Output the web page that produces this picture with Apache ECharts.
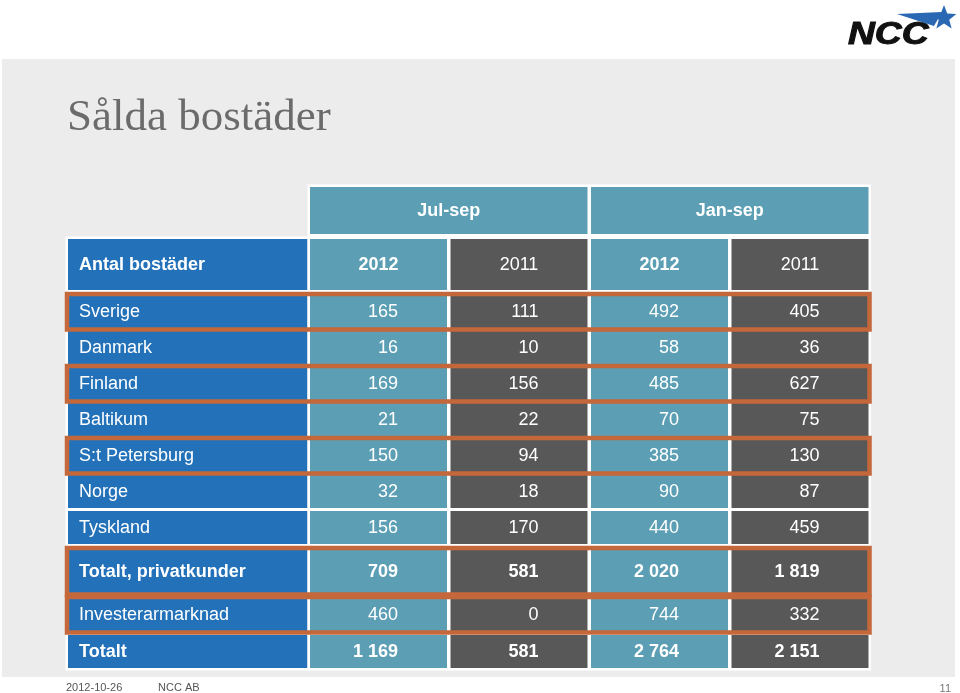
<!DOCTYPE html>
<html><head><meta charset="utf-8">
<script src="https://cdn.jsdelivr.net/npm/echarts@6/dist/echarts.min.js"></script>
<style>html,body{margin:0;padding:0;background:#fff}#c{width:960px;height:693px}</style>
</head><body><div id="c"></div>
<script>
// ---- data ----
const slideTitle = 'Sålda bostäder';
const cornerLabel = 'Antal bostäder';
const periods = ['Jul-sep', 'Jan-sep'];
const years = ['2012', '2011', '2012', '2011'];
const rowLabels = ['Sverige', 'Danmark', 'Finland', 'Baltikum', 'S:t Petersburg', 'Norge', 'Tyskland', 'Totalt, privatkunder', 'Investerarmarknad', 'Totalt'];
const julSep2012 = [165, 16, 169, 21, 150, 32, 156, 709, 460, 1169];
const julSep2011 = [111, 10, 156, 22, 94, 18, 170, 581, 0, 581];
const janSep2012 = [492, 58, 485, 70, 385, 90, 440, 2020, 744, 2764];
const janSep2011 = [405, 36, 627, 75, 130, 87, 459, 1819, 332, 2151];
const highlightRows = ['Sverige', 'Finland', 'S:t Petersburg', 'Totalt, privatkunder', 'Investerarmarknad'];
const boldRows = ['Totalt, privatkunder', 'Totalt'];
const footerDate = '2012-10-26';
const footerCompany = 'NCC AB';
const pageNumber = '11';
const logoText = 'NCC';

// ---- layout (table units) ----
const COL_X = [[0, 239.5], [242, 379], [382.5, 519.5], [523, 660], [663.5, 800.5]];
const ROW_Y = [[0, 47], [52, 103], [108, 141], [144, 177], [180, 213], [216, 249], [252, 285], [288, 321], [324, 357], [362, 406], [411, 444], [448, 481]];
const BLUE = '#2372b9', TEAL = '#5c9fb4', DARK = '#585858', ORANGE = '#c4673a';
const colFill = [BLUE, TEAL, DARK, TEAL, DARK];
const FONT = '"Liberation Sans", Arial, sans-serif';

function fmt(n) { return String(n).replace(/\B(?=(\d{3})+(?!\d))/g, ' '); }

// build cells: [c0, r, c1], plus text/kind
const cells = [];
periods.forEach((p, i) => cells.push({ value: [1 + 2 * i, 0, 2 + 2 * i], text: p, kind: 'period' }));
cells.push({ value: [0, 1, 0], text: cornerLabel, kind: 'corner' });
years.forEach((y, i) => cells.push({ value: [i + 1, 1, i + 1], text: y, kind: 'year', bold: y === '2012' }));
const series = [julSep2012, julSep2011, janSep2012, janSep2011];
rowLabels.forEach((lab, r) => {
  const bold = boldRows.includes(lab);
  cells.push({ value: [0, r + 2, 0], text: lab, kind: 'label', bold });
  series.forEach((arr, i) => cells.push({ value: [i + 1, r + 2, i + 1], text: fmt(arr[r]), kind: 'num', bold }));
});

function renderCell(params, api) {
  const c = cells[params.dataIndex];
  const c0 = api.value(0), r = api.value(1), c1 = api.value(2);
  const p0 = api.coord([COL_X[c0][0], ROW_Y[r][0]]);
  const p1 = api.coord([COL_X[c1][1], ROW_Y[r][1]]);
  const fill = c.kind === 'period' ? TEAL : colFill[c0];
  let tx, align;
  if (c.kind === 'label' || c.kind === 'corner') { tx = p0[0] + 11; align = 'left'; }
  else if (c.kind === 'num') { tx = p1[0] - 49; align = 'right'; }
  else { tx = (p0[0] + p1[0]) / 2; align = 'center'; }
  const bold = c.kind === 'period' || c.kind === 'corner' || c.bold;
  return {
    type: 'group',
    children: [
      { type: 'rect', shape: { x: p0[0] - 1.25, y: p0[1] - 1.25, width: p1[0] - p0[0] + 2.5, height: p1[1] - p0[1] + 2.5 },
        style: { fill: fill, stroke: '#ffffff', lineWidth: 2.5 } },
      { type: 'text', x: tx, y: (p0[1] + p1[1]) / 2 + 1,
        style: { text: c.text, fill: '#ffffff', font: (bold ? 'bold ' : '') + '18px ' + FONT, align: align, textAlign: align, verticalAlign: 'middle', textVerticalAlign: 'middle' } }
    ]
  };
}

const outlineData = highlightRows.map(l => ({ value: [rowLabels.indexOf(l) + 2] }));
function renderOutline(params, api) {
  const r = api.value(0);
  const p0 = api.coord([COL_X[0][0] - 1, ROW_Y[r][0] - 1]);
  const p1 = api.coord([COL_X[4][1] + 1, ROW_Y[r][1] + 1.5]);
  return { type: 'rect', shape: { x: p0[0], y: p0[1], width: p1[0] - p0[0], height: p1[1] - p0[1] },
    style: { fill: 'none', stroke: ORANGE, lineWidth: 4.5 } };
}

// star polygon for logo
function starPoints(cx, cy, ro, ri, rot) {
  const pts = [];
  for (let i = 0; i < 10; i++) {
    const a = rot + i * Math.PI / 5;
    const r = i % 2 === 0 ? ro : ri;
    pts.push([cx + r * Math.sin(a), cy - r * Math.cos(a)]);
  }
  return pts;
}

const chart = echarts.init(document.getElementById('c'), null, { renderer: 'canvas' });
chart.setOption({
  backgroundColor: '#ffffff',
  animation: false,
  grid: { left: 68, top: 187, width: 800, height: 481 },
  xAxis: { type: 'value', min: 0, max: 800, show: false },
  yAxis: { type: 'value', min: 0, max: 481, inverse: true, show: false },
  graphic: [
    { type: 'rect', z: 0, shape: { x: 2, y: 59, width: 953, height: 618 }, style: { fill: '#ececec' } },
    { type: 'text', z: 1, x: 67, y: 118, style: { text: slideTitle, fill: '#6b6b6b', font: '45px "Liberation Serif", serif', verticalAlign: 'middle', textVerticalAlign: 'middle' } },
    { type: 'text', z: 1, x: 66, y: 688, style: { text: footerDate, fill: '#555555', font: '11px ' + FONT, verticalAlign: 'middle', textVerticalAlign: 'middle' } },
    { type: 'text', z: 1, x: 158, y: 688, style: { text: footerCompany, fill: '#555555', font: '11px ' + FONT, verticalAlign: 'middle', textVerticalAlign: 'middle' } },
    { type: 'text', z: 1, x: 951, y: 689, style: { text: pageNumber, fill: '#777777', font: '11px ' + FONT, align: 'right', textAlign: 'right', verticalAlign: 'middle', textVerticalAlign: 'middle' } },
    { type: 'text', z: 1, x: 848, y: 35, scaleX: 1.2, scaleY: 1, originX: 0, originY: 0, style: { text: logoText, fill: '#111111', stroke: '#111111', lineWidth: 1, font: 'italic bold 31px ' + FONT, verticalAlign: 'middle', textVerticalAlign: 'middle' } },
    { type: 'polygon', z: 2, shape: { points: [[897, 14], [942, 12], [934, 26]] }, style: { fill: '#2a68b3' } },
    { type: 'polygon', z: 2, shape: { points: starPoints(944, 18, 13, 5.5, 0) }, style: { fill: '#2a68b3' } }
  ],
  series: [
    { type: 'custom', z: 5, coordinateSystem: 'cartesian2d', data: cells.map(c => c.value), renderItem: renderCell, silent: true },
    { type: 'custom', z: 6, coordinateSystem: 'cartesian2d', data: outlineData, renderItem: renderOutline, silent: true }
  ]
});
</script></body></html>
